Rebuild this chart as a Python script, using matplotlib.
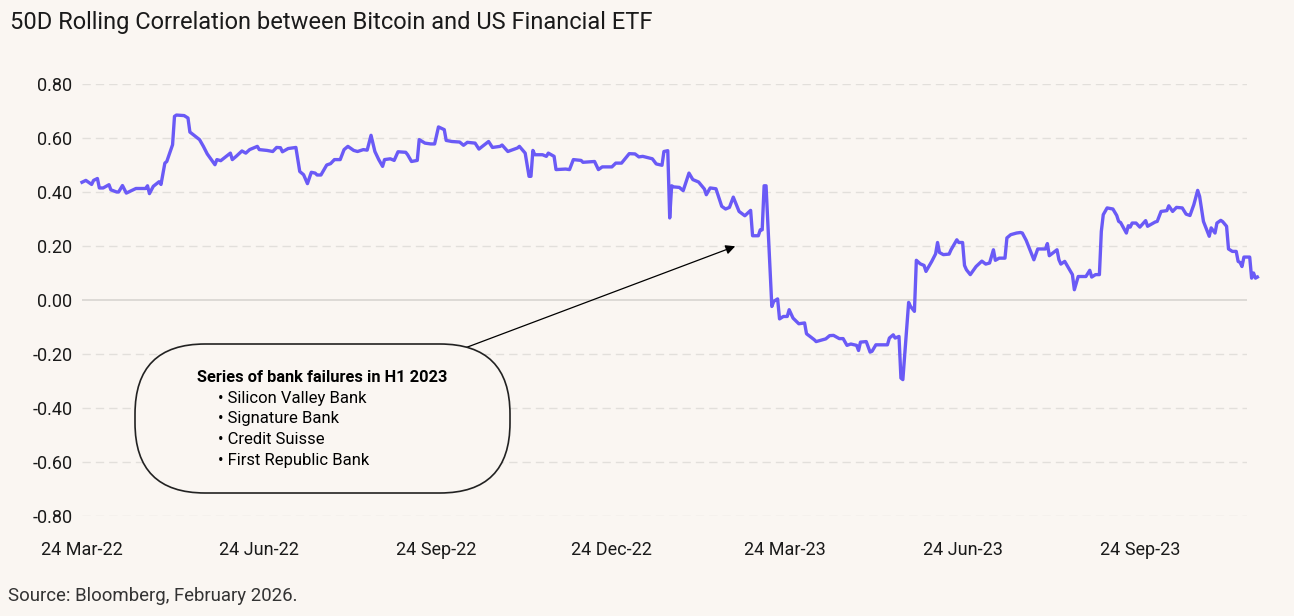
import matplotlib
matplotlib.use("Agg")
import matplotlib.pyplot as plt
import matplotlib.dates as mdates
from matplotlib.patches import FancyBboxPatch
from matplotlib.transforms import IdentityTransform
import pandas as pd

plt.rcParams["font.family"] = ["Roboto", "DejaVu Sans"]

# 50D rolling correlation (days after 24 Mar 2022)
start = pd.Timestamp("2022-03-24")
days = [0, 2, 5, 6, 8, 9, 11, 14, 15, 18, 19, 21, 23, 26, 28, 33, 34, 35, 37, 40,
        41, 43, 44, 47, 48, 49, 53, 55, 56, 58, 61, 63, 65, 69, 70, 72, 76, 77, 78, 80,
        83, 85, 87, 91, 92, 96, 99, 101, 103, 104, 107, 111, 113, 115, 117, 119, 121, 122, 124, 127,
        129, 131, 134, 136, 138, 141, 143, 146, 148, 150, 152, 154, 156, 157, 160, 162, 164, 168, 169, 171,
        174, 175, 178, 181, 183, 185, 188, 189, 192, 196, 198, 200, 204, 206, 211, 213, 217, 218, 221, 226,
        227, 230, 232, 233, 234, 235, 239, 241, 242, 245, 246, 251, 253, 255, 259, 260, 266, 268, 270, 275,
        277, 280, 284, 287, 289, 291, 296, 298, 301, 302, 304, 305, 306, 307, 310, 312, 315, 317, 320, 323,
        324, 326, 329, 332, 334, 336, 338, 341, 344, 347, 348, 351, 352, 353, 354, 355, 358, 359, 361, 362,
        364, 366, 367, 369, 372, 375, 376, 380, 381, 386, 388, 390, 393, 395, 397, 399, 402, 403, 404, 407,
        409, 410, 412, 418, 419, 421, 422, 424, 425, 426, 429, 430, 432, 433, 435, 437, 438, 441, 443, 444,
        445, 447, 450, 451, 454, 455, 457, 458, 459, 461, 464, 467, 469, 471, 473, 474, 476, 479, 480, 482,
        485, 487, 488, 490, 494, 496, 500, 501, 502, 506, 507, 508, 510, 514, 515, 517, 521, 523, 524, 526,
        528, 529, 530, 532, 535, 537, 538, 539, 542, 543, 544, 545, 547, 549, 552, 553, 557, 558, 560, 563,
        564, 566, 568, 571, 573, 575, 577, 579, 580, 582, 585, 586, 588, 589, 591, 592, 594, 595, 597, 599,
        600, 601, 602, 603, 606, 607, 608, 609, 610]
corr = [0.436, 0.443, 0.428, 0.443, 0.450, 0.415, 0.415, 0.427, 0.408, 0.400, 0.400, 0.424, 0.396, 0.406, 0.413, 0.413, 0.423, 0.394, 0.421, 0.438,
        0.428, 0.507, 0.513, 0.575, 0.680, 0.685, 0.683, 0.674, 0.622, 0.611, 0.594, 0.569, 0.541, 0.501, 0.520, 0.516, 0.538, 0.544, 0.520, 0.532,
        0.552, 0.544, 0.557, 0.569, 0.557, 0.554, 0.550, 0.565, 0.564, 0.549, 0.561, 0.565, 0.476, 0.464, 0.431, 0.473, 0.470, 0.463, 0.463, 0.500,
        0.505, 0.520, 0.520, 0.557, 0.569, 0.554, 0.550, 0.557, 0.555, 0.610, 0.550, 0.520, 0.495, 0.520, 0.523, 0.517, 0.549, 0.547, 0.538, 0.513,
        0.517, 0.594, 0.581, 0.578, 0.578, 0.641, 0.631, 0.591, 0.587, 0.585, 0.573, 0.584, 0.581, 0.559, 0.587, 0.565, 0.569, 0.574, 0.550, 0.563,
        0.569, 0.544, 0.458, 0.458, 0.554, 0.538, 0.538, 0.532, 0.544, 0.532, 0.483, 0.485, 0.483, 0.520, 0.517, 0.510, 0.513, 0.483, 0.493, 0.493,
        0.507, 0.507, 0.542, 0.541, 0.530, 0.532, 0.523, 0.504, 0.499, 0.550, 0.553, 0.304, 0.423, 0.419, 0.417, 0.405, 0.470, 0.446, 0.437, 0.411,
        0.390, 0.415, 0.412, 0.347, 0.337, 0.343, 0.381, 0.328, 0.312, 0.332, 0.238, 0.238, 0.260, 0.260, 0.423, 0.423, -0.024, -0.005, 0.004, -0.070,
        -0.061, -0.061, -0.036, -0.067, -0.088, -0.085, -0.125, -0.147, -0.154, -0.144, -0.132, -0.131, -0.143, -0.143, -0.168, -0.163, -0.168, -0.187, -0.156, -0.154,
        -0.193, -0.190, -0.166, -0.166, -0.141, -0.129, -0.141, -0.135, -0.289, -0.295, -0.009, -0.024, -0.042, 0.147, 0.134, 0.128, 0.106, 0.143, 0.171, 0.213,
        0.176, 0.168, 0.170, 0.186, 0.223, 0.213, 0.213, 0.128, 0.112, 0.094, 0.124, 0.144, 0.133, 0.137, 0.186, 0.147, 0.155, 0.155, 0.230, 0.242,
        0.248, 0.250, 0.248, 0.221, 0.149, 0.189, 0.189, 0.209, 0.164, 0.186, 0.149, 0.133, 0.143, 0.094, 0.038, 0.087, 0.087, 0.110, 0.085, 0.094,
        0.094, 0.254, 0.316, 0.341, 0.337, 0.313, 0.291, 0.287, 0.248, 0.275, 0.270, 0.285, 0.285, 0.270, 0.294, 0.273, 0.289, 0.291, 0.328, 0.331,
        0.349, 0.328, 0.343, 0.341, 0.318, 0.313, 0.353, 0.406, 0.384, 0.291, 0.236, 0.267, 0.248, 0.285, 0.295, 0.290, 0.273, 0.189, 0.180, 0.180,
        0.143, 0.139, 0.124, 0.159, 0.159, 0.081, 0.100, 0.081, 0.085]

tick_dates = ["2022-03-24", "2022-06-24", "2022-09-24", "2022-12-24",
              "2023-03-24", "2023-06-24", "2023-09-24"]
tick_labels = ["24 Mar-22", "24 Jun-22", "24 Sep-22", "24 Dec-22",
               "24 Mar-23", "24 Jun-23", "24 Sep-23"]
y_ticks = [-0.8, -0.6, -0.4, -0.2, 0.0, 0.2, 0.4, 0.6, 0.8]
y_labels = ["-0.80", "-0.60", "-0.40", "-0.20", "0.00", "0.20", "0.40", "0.60", "0.80"]

bank_failures = ["Silicon Valley Bank", "Signature Bank", "Credit Suisse", "First Republic Bank"]

bg = "#FAF6F2"
ink = "#1A1A1A"

fig = plt.figure(figsize=(12.94, 6.16), dpi=100, facecolor=bg)
ax = fig.add_axes([82 / 1294, 1 - 516 / 616, (1247 - 82) / 1294, (516 - 84) / 616])
ax.set_facecolor(bg)

dates = start + pd.to_timedelta(days, unit="D")
ax.plot(dates, corr, color="#6A5AF6", lw=2.4, clip_on=False, zorder=3,
        solid_joinstyle="round")

ax.set_xlim(start, start + pd.Timedelta(days=604.6))
ax.set_ylim(-0.8, 0.8)
ax.set_xticks(pd.to_datetime(tick_dates), tick_labels)
ax.set_yticks(y_ticks, y_labels)

for v in y_ticks:
    if v == 0:
        ax.axhline(v, color="#D8D5D1", lw=1.2, zorder=1)
    else:
        ax.axhline(v, color="#E2DFDB", lw=1.0, dashes=(6, 3.6), zorder=1)

for s in ax.spines.values():
    s.set_visible(False)
ax.tick_params(axis="both", length=0, labelsize=13, colors=ink)
ax.tick_params(axis="x", pad=18)
ax.tick_params(axis="y", pad=7)

fig.text(10 / 1294, 1 - 22 / 616, "50D Rolling Correlation between Bitcoin and US Financial ETF",
         fontsize=17, color=ink, va="center", ha="left")
fig.text(8 / 1294, 1 - 596 / 616, "Source: Bloomberg, February 2026.",
         fontsize=13.4, color="#333333", va="center", ha="left")

# callout pill with bank failures
pill = FancyBboxPatch((135, 616 - 493), 375, 149,
                      boxstyle="round,pad=0,rounding_size=70",
                      transform=IdentityTransform(), facecolor=bg,
                      edgecolor="#222222", lw=1.2, zorder=4)
fig.add_artist(pill)
fig.text(197 / 1294, 1 - 377.7 / 616, "Series of bank failures in H1 2023",
         fontsize=11.8, fontweight="bold", color="black", va="center", zorder=5)
for i, name in enumerate(bank_failures):
    fig.text(218 / 1294, 1 - (398.3 + 20.6 * i) / 616, "\u2022 " + name,
             fontsize=12, color="black", va="center", zorder=5)

ax.annotate("", xy=(mdates.date2num(start + pd.Timedelta(days=339)), 0.199),
            xytext=(mdates.date2num(start + pd.Timedelta(days=199)), -0.177),
            arrowprops=dict(arrowstyle="-|>", color="black", lw=0.9,
                            mutation_scale=14, shrinkA=0, shrinkB=0),
            zorder=5)

fig.savefig("out.png", dpi=100, facecolor=bg)
